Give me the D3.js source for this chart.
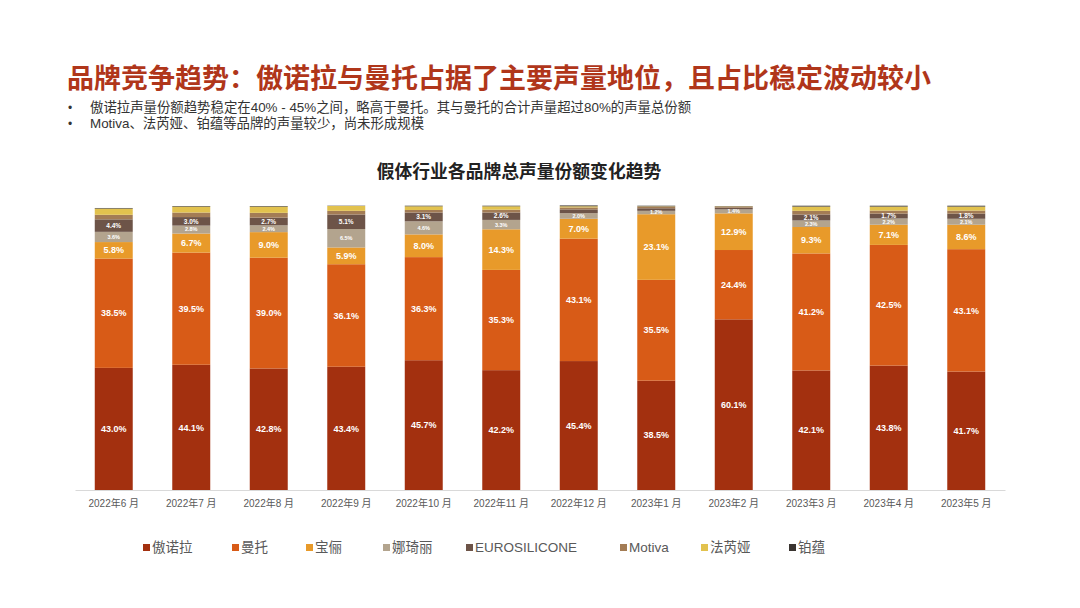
<!DOCTYPE html>
<html>
<head>
<meta charset="utf-8">
<script src="https://cdn.jsdelivr.net/npm/d3@7/dist/d3.min.js"></script>
<style>
  body { margin: 0; background: #fff; }
  svg text { font-family: "Liberation Sans", "Noto Sans CJK SC", sans-serif; }
</style>
</head>
<body>
<script>
// months on the x axis
var months = ["2022年6 月", "2022年7 月", "2022年8 月", "2022年9 月", "2022年10 月", "2022年11 月",
              "2022年12 月", "2023年1 月", "2023年2 月", "2023年3 月", "2023年4 月", "2023年5 月"];

// brands, bottom to top
var brands = ["傲诺拉", "曼托", "宝俪", "娜琦丽", "EUROSILICONE", "Motiva", "法芮娅", "铂蕴"];
var brandColors = ["#A3300F", "#D85B17", "#E89A2A", "#B3A48E", "#6D5448", "#A37C55", "#E2C24E", "#3A3430"];

// share (%) per month
var aonuola   = [43.0, 44.1, 42.8, 43.4, 45.7, 42.2, 45.4, 38.5, 60.1, 42.1, 43.8, 41.7];
var mantuo    = [38.5, 39.5, 39.0, 36.1, 36.3, 35.3, 43.1, 35.5, 24.4, 41.2, 42.5, 43.1];
var baoli     = [5.8, 6.7, 9.0, 5.9, 8.0, 14.3, 7.0, 23.1, 12.9, 9.3, 7.1, 8.6];
var naqili    = [3.6, 2.8, 2.4, 6.5, 4.6, 3.3, 2.0, 1.2, 1.4, 2.3, 2.2, 2.1];
var euro      = [4.4, 3.0, 2.7, 5.1, 3.1, 2.6, 1.3, 0.9, 0.6, 2.1, 1.7, 1.8];
var motiva    = [1.6, 1.6, 1.7, 1.3, 0.9, 1.0, 0.7, 0.6, 0.4, 1.3, 1.1, 1.1];
var faruiya   = [2.2, 2.1, 2.2, 1.7, 1.3, 1.2, 0.4, 0.1, 0.1, 1.5, 1.4, 1.4];
var boyun     = [0.2, 0.2, 0.2, 0.1, 0.2, 0.2, 0.3, 0.2, 0.1, 0.3, 0.3, 0.3];

var series = [aonuola, mantuo, baoli, naqili, euro, motiva, faruiya, boyun];

var w = 1080, h = 608;
var svg = d3.select("body").append("svg")
            .attr("width", w)
            .attr("height", h);

// page title and bullets
svg.append("text")
   .attr("x", 67).attr("y", 88)
   .style("font-family", "'Noto Sans CJK SC', sans-serif")
   .style("font-size", "27px")
   .style("font-weight", "bold")
   .style("fill", "#B0361A")
   .text("品牌竞争趋势：傲诺拉与曼托占据了主要声量地位，且占比稳定波动较小");

var bullets = ["傲诺拉声量份额趋势稳定在40% - 45%之间，略高于曼托。其与曼托的合计声量超过80%的声量总份额",
               "Motiva、法芮娅、铂蕴等品牌的声量较少，尚未形成规模"];
bullets.forEach(function(b, i) {
  svg.append("text").attr("x", 68).attr("y", 112 + i * 16)
     .style("font-size", "12px").style("fill", "#333").text("•");
  svg.append("text").attr("x", 90).attr("y", 112 + i * 16)
     .style("font-size", "13.4px").style("fill", "#333").text(b);
});

// chart title
svg.append("text")
   .attr("x", 519).attr("y", 178)
   .style("text-anchor", "middle")
   .style("font-family", "'Noto Sans CJK SC', sans-serif")
   .style("font-size", "17.8px")
   .style("font-weight", "bold")
   .style("fill", "#222")
   .text("假体行业各品牌总声量份额变化趋势");

// scales
var xScale = d3.scaleBand()
               .domain(months)
               .range([75, 1005])
               .paddingInner(0.51)
               .paddingOuter(0.255);

var yScale = d3.scaleLinear()
               .domain([0, 100])
               .range([490, 206]);

// stack the data
var table = months.map(function(m, i) {
  var row = {month: m};
  brands.forEach(function(b, j) { row[b] = series[j][i]; });
  return row;
});
var stacked = d3.stack().keys(brands)(table);

var layers = svg.append("g").selectAll("g")
   .data(stacked)
   .enter()
   .append("g")
   .attr("fill", function(d, i) { return brandColors[i]; });

layers.selectAll("rect")
   .data(function(d) { return d; })
   .enter()
   .append("rect")
   .attr("x", function(d) { return xScale(d.data.month); })
   .attr("width", xScale.bandwidth())
   .attr("y", function(d) { return yScale(d[1]); })
   .attr("height", function(d) { return yScale(d[0]) - yScale(d[1]); });

// value labels
stacked.forEach(function(layer, li) {
  layer.forEach(function(d) {
    var v = d[1] - d[0];
    var show = li < 3 || (li == 3 && v >= 1) || (li == 4 && v >= 1.5);
    if (!show) return;
    var big = li < 3;
    svg.append("text")
       .attr("x", xScale(d.data.month) + xScale.bandwidth() / 2)
       .attr("y", (yScale(d[0]) + yScale(d[1])) / 2)
       .attr("dy", "0.35em")
       .style("text-anchor", "middle")
       .style("font-size", big ? "9px" : (li == 4 ? "6.5px" : "5.5px"))
       .style("font-weight", "bold")
       .style("fill", "#fff")
       .text(v.toFixed(1) + "%");
  });
});

// x axis
var xAxis = d3.axisBottom(xScale).tickSize(0).tickPadding(10);
var gx = svg.append("g")
   .attr("transform", "translate(0,490)")
   .call(xAxis);
gx.select(".domain").attr("stroke", "#d9d9d9").attr("stroke-width", 1.2);
gx.selectAll("text")
  .style("font-size", "10px")
  .style("fill", "#595959");

// legend
var legendX = [143, 232, 306, 383, 466, 620, 701, 789];
brands.forEach(function(b, i) {
  svg.append("rect")
     .attr("x", legendX[i]).attr("y", 544)
     .attr("width", 7).attr("height", 7)
     .attr("fill", brandColors[i]);
  svg.append("text")
     .attr("x", legendX[i] + 9).attr("y", 552)
     .style("font-size", "13.5px")
     .style("fill", "#595959")
     .text(b);
});
</script>
</body>
</html>
